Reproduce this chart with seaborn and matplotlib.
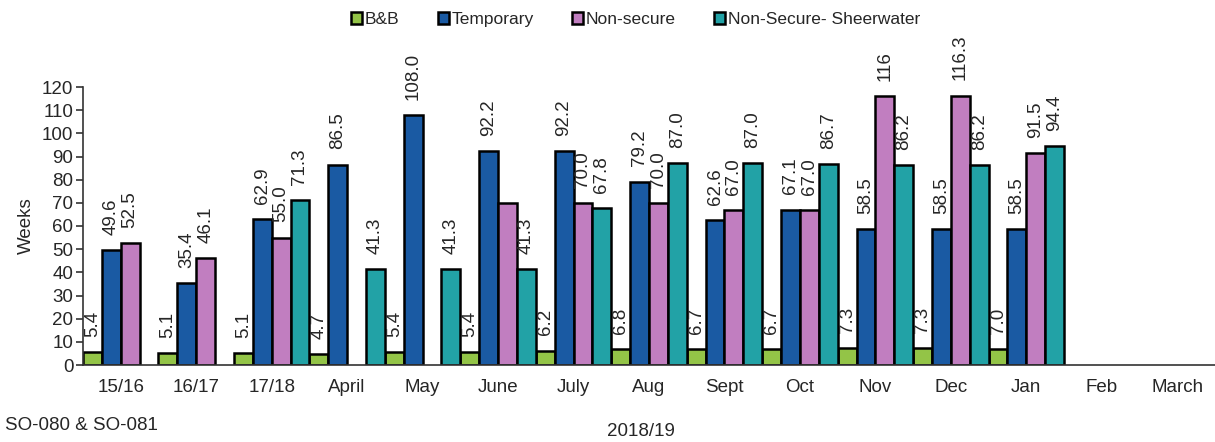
import pandas as pd
import seaborn as sns
import matplotlib.pyplot as plt

# data (weeks)
categories = ['15/16', '16/17', '17/18', 'April', 'May', 'June', 'July', 'Aug',
              'Sept', 'Oct', 'Nov', 'Dec', 'Jan', 'Feb', 'March']
series = ['B&B', 'Temporary', 'Non-secure', 'Non-Secure- Sheerwater']
nan = float('nan')
bnb = [5.4, 5.1, 5.1, 4.7, 5.4, 5.4, 6.2, 6.8, 6.7, 6.7, 7.3, 7.3, 7.0, nan, nan]
temporary = [49.6, 35.4, 62.9, 86.5, 108.0, 92.2, 92.2, 79.2, 62.6, 67.1, 58.5, 58.5, 58.5, nan, nan]
non_secure = [52.5, 46.1, 55.0, nan, nan, 70.0, 70.0, 70.0, 67.0, 67.0, 116.0, 116.3, 91.5, nan, nan]
sheerwater = [nan, nan, 71.3, 41.3, 41.3, 41.3, 67.8, 87.0, 87.0, 86.7, 86.2, 86.2, 94.4, nan, nan]

# printed labels (June non-secure has none on the original)
bnb_lbl = ['5.4', '5.1', '5.1', '4.7', '5.4', '5.4', '6.2', '6.8', '6.7', '6.7', '7.3', '7.3', '7.0', '', '']
temporary_lbl = ['49.6', '35.4', '62.9', '86.5', '108.0', '92.2', '92.2', '79.2', '62.6', '67.1', '58.5', '58.5', '58.5', '', '']
non_secure_lbl = ['52.5', '46.1', '55.0', '', '', '', '70.0', '70.0', '67.0', '67.0', '116', '116.3', '91.5', '', '']
sheerwater_lbl = ['', '', '71.3', '41.3', '41.3', '41.3', '67.8', '87.0', '87.0', '86.7', '86.2', '86.2', '94.4', '', '']

colors = ['#93c447', '#1a5aa3', '#c17ec0', '#22a2a6']

rows = []
for name, vals in zip(series, [bnb, temporary, non_secure, sheerwater]):
    for c, v in zip(categories, vals):
        rows.append({'period': c, 'series': name, 'weeks': v})
df = pd.DataFrame(rows).dropna()

sns.set_style('white')
plt.rcParams['font.family'] = ['Liberation Sans', 'DejaVu Sans']

fig = plt.figure(figsize=(12.15, 4.42), dpi=100)
ax = fig.add_axes([83 / 1215, 77 / 442, (1215 - 83) / 1215, 278 / 442])

sns.barplot(data=df, x='period', y='weeks', hue='series', order=categories,
            hue_order=series, palette=colors, width=1.0, edgecolor='black',
            linewidth=1.8, saturation=1, errorbar=None, ax=ax, legend=True)

# value labels above the bars
all_lbls = [bnb_lbl, temporary_lbl, non_secure_lbl, sheerwater_lbl]
for j, cont in enumerate(ax.containers):
    for bar in cont:
        cx = bar.get_x() + bar.get_width() / 2
        i = int(round(cx + 0.375 - 0.25 * j))
        txt = all_lbls[j][i]
        if txt:
            ax.annotate(txt, (cx, bar.get_height()), xytext=(0, 11),
                        textcoords='offset points', rotation=90, ha='center',
                        va='bottom', fontsize=13.5, annotation_clip=False)

ax.set_ylim(0, 120)
ax.set_yticks(range(0, 121, 10))
ax.set_xlim(-0.5, -0.5 + (1215 - 83) / 75.9)
ax.set_xlabel('')
ax.set_ylabel('Weeks', fontsize=13.5, labelpad=5)
for s in ['top', 'right']:
    ax.spines[s].set_visible(False)
for s in ['left', 'bottom']:
    ax.spines[s].set_color('#333333')
    ax.spines[s].set_linewidth(1.2)

ax.set_xticks([k + 0.5 for k in range(-1, len(categories))], minor=True)
ax.tick_params(axis='x', which='major', length=0, labelsize=13.5, pad=10)
ax.tick_params(axis='x', which='minor', length=7, width=1.2, color='#333333', direction='out')
ax.tick_params(axis='y', length=5, width=1.2, color='#333333', labelsize=13.5, left=True, pad=2)

handles, labels = ax.get_legend_handles_labels()
ax.get_legend().remove()
fig.legend(handles, labels, loc='center', bbox_to_anchor=(0.523, 0.955), ncol=4,
           frameon=False, fontsize=12.5, handlelength=0.65, handleheight=0.65,
           handletextpad=0.15, columnspacing=2.2)

fig.text(5 / 1215, 1 - 426 / 442, 'SO-080 & SO-081', fontsize=13.5, va='center', ha='left')
fig.text(641 / 1215, 1 - 432 / 442, '2018/19', fontsize=13.5, va='center', ha='center')

fig.savefig('out.png', dpi=100, facecolor='white')
